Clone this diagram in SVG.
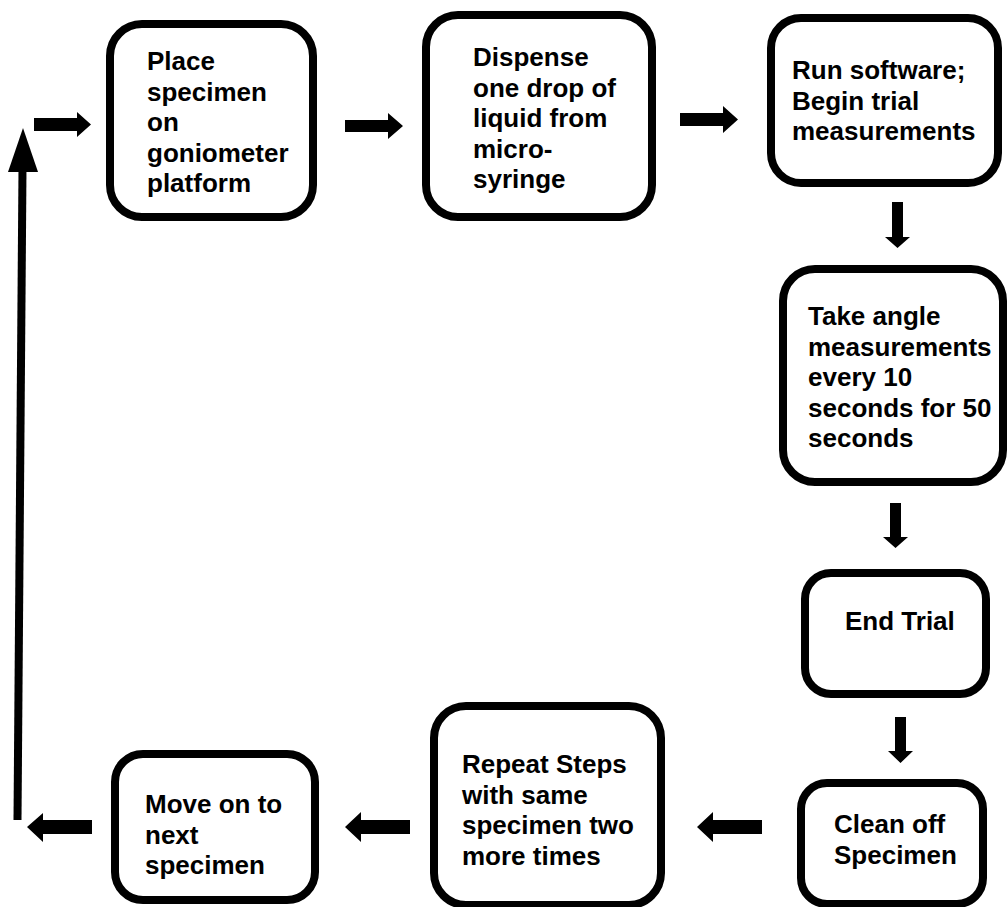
<svg xmlns="http://www.w3.org/2000/svg" width="1007" height="907" viewBox="0 0 1007 907">
<style>
.box{fill:#fff;stroke:#000;stroke-width:8}
.t{font-family:"Liberation Sans",Arial,sans-serif;font-weight:bold;font-size:26px;fill:#000}
.arr{fill:#000;stroke:none}
.line{stroke:#000;stroke-width:8;fill:none}
</style>
<rect width="1007" height="907" fill="#fff"/>
<g id="connectors">
<polygon class="arr" points="34,118 77,118 77,112 91,124.5 77,137 77,131 34,131"/>
<polygon class="arr" points="345,120 388,120 388,113 403,126 388,139 388,132 345,132"/>
<polygon class="arr" points="680,113 723,113 723,106 738,119.5 723,133 723,126 680,126"/>
<polygon class="arr" points="892,202 903,202 903,237 910,237 897.5,248 885,237 892,237"/>
<polygon class="arr" points="890,503 901,503 901,537 908,537 895.5,548 883,537 890,537"/>
<polygon class="arr" points="895,717 906,717 906,751 913,751 900.5,763 888,751 895,751"/>
<polygon class="arr" points="762,820 713,820 713,812 697,827 713,842 713,834 762,834"/>
<polygon class="arr" points="410,820 361,820 361,812 345,827 361,842 361,834 410,834"/>
<polygon class="arr" points="92,820 43,820 43,813 27,827 43,842 43,834 92,834"/>
<line class="line" x1="17.5" y1="820" x2="22.5" y2="168"/>
<polygon class="arr" points="23,128 38,172 8,172"/>
</g>
<g id="n1">
<rect class="box" x="110" y="24" width="203" height="193" rx="32"/>
<text class="t"><tspan x="147" y="70">Place</tspan><tspan x="147" y="100.5">specimen</tspan><tspan x="147" y="131">on</tspan><tspan x="147" y="161.5">goniometer</tspan><tspan x="147" y="192">platform</tspan></text>
</g>
<g id="n2">
<rect class="box" x="426" y="15" width="226" height="202" rx="32"/>
<text class="t"><tspan x="473" y="66">Dispense</tspan><tspan x="473" y="96.5">one drop of</tspan><tspan x="473" y="127">liquid from</tspan><tspan x="473" y="157.5">micro-</tspan><tspan x="473" y="188">syringe</tspan></text>
</g>
<g id="n3">
<rect class="box" x="771" y="18" width="227" height="165" rx="30"/>
<text class="t"><tspan x="792" y="79">Run software;</tspan><tspan x="792" y="109.5">Begin trial</tspan><tspan x="792" y="140">measurements</tspan></text>
</g>
<g id="n4">
<rect class="box" x="783" y="269" width="220" height="213" rx="32"/>
<text class="t"><tspan x="808" y="325">Take angle</tspan><tspan x="808" y="355.5">measurements</tspan><tspan x="808" y="386">every 10</tspan><tspan x="808" y="416.5">seconds for 50</tspan><tspan x="808" y="447">seconds</tspan></text>
</g>
<g id="n5">
<rect class="box" x="805" y="573" width="181" height="121" rx="26"/>
<text class="t" x="845" y="630">End Trial</text>
</g>
<g id="n6">
<rect class="box" x="801" y="783" width="182" height="121" rx="26"/>
<text class="t"><tspan x="834" y="833">Clean off</tspan><tspan x="834" y="864">Specimen</tspan></text>
</g>
<g id="n7">
<rect class="box" x="434" y="706" width="227" height="199" rx="32"/>
<text class="t"><tspan x="462" y="773">Repeat Steps</tspan><tspan x="462" y="803.5">with same</tspan><tspan x="462" y="834">specimen two</tspan><tspan x="462" y="864.5">more times</tspan></text>
</g>
<g id="n8">
<rect class="box" x="115" y="754" width="200" height="146" rx="28"/>
<text class="t"><tspan x="145" y="813">Move on to</tspan><tspan x="145" y="843.5">next</tspan><tspan x="145" y="874">specimen</tspan></text>
</g>
</svg>
